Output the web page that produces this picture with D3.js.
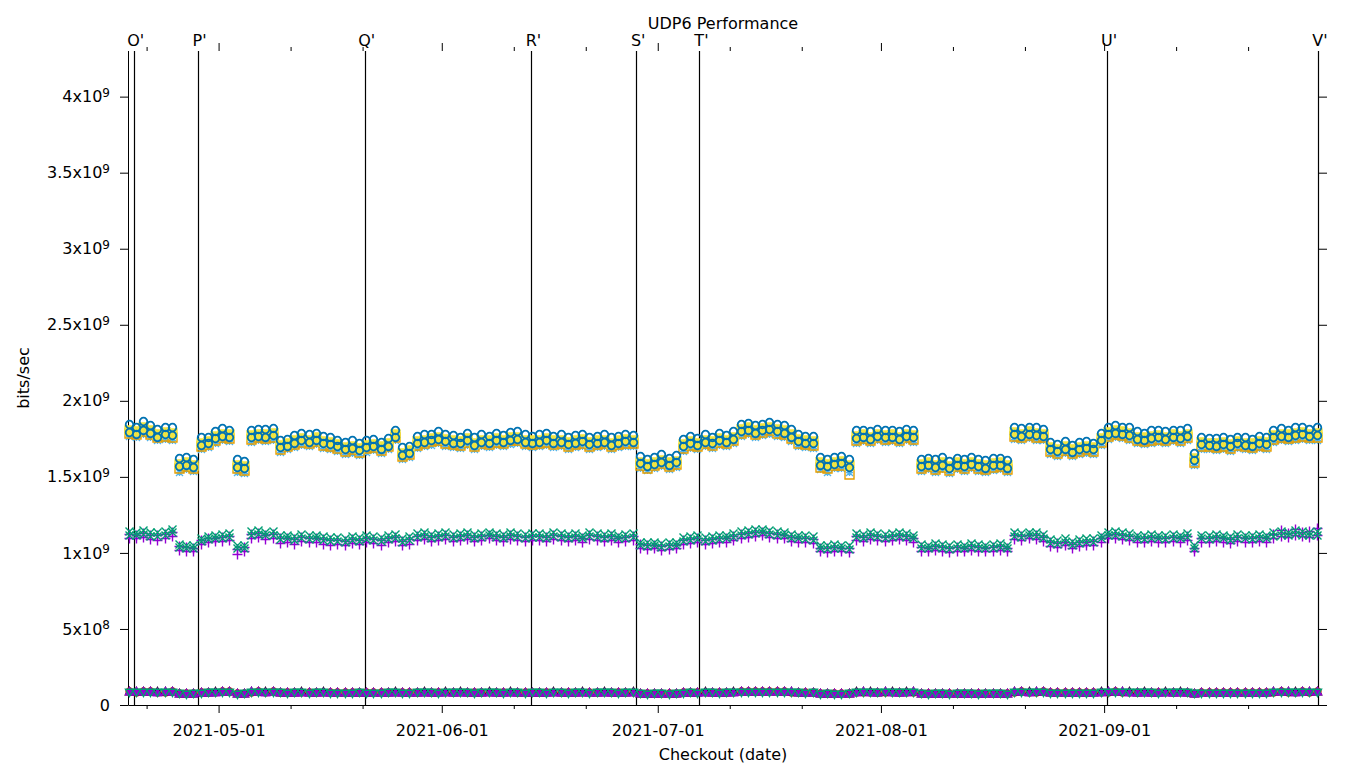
<!DOCTYPE html>
<html>
<head>
<meta charset="utf-8">
<script src="https://cdn.jsdelivr.net/npm/d3@7"></script>
<style>
  body { margin: 0; background: white; }
  svg { display: block; font-family: "DejaVu Sans", sans-serif; }
</style>
</head>
<body>
<div id="chart"></div>
<script>

// checkout dates (one run set per day)
var checkouts = [
  "2021-04-18","2021-04-19","2021-04-20","2021-04-21","2021-04-22","2021-04-23","2021-04-24","2021-04-25","2021-04-26","2021-04-27",
  "2021-04-28","2021-04-29","2021-04-30","2021-05-01","2021-05-02","2021-05-03","2021-05-04","2021-05-05","2021-05-06","2021-05-07",
  "2021-05-08","2021-05-09","2021-05-10","2021-05-11","2021-05-12","2021-05-13","2021-05-14","2021-05-15","2021-05-16","2021-05-17",
  "2021-05-18","2021-05-19","2021-05-20","2021-05-21","2021-05-22","2021-05-23","2021-05-24","2021-05-25","2021-05-26","2021-05-27",
  "2021-05-28","2021-05-29","2021-05-30","2021-05-31","2021-06-01","2021-06-02","2021-06-03","2021-06-04","2021-06-05","2021-06-06",
  "2021-06-07","2021-06-08","2021-06-09","2021-06-10","2021-06-11","2021-06-12","2021-06-13","2021-06-14","2021-06-15","2021-06-16",
  "2021-06-17","2021-06-18","2021-06-19","2021-06-20","2021-06-21","2021-06-22","2021-06-23","2021-06-24","2021-06-25","2021-06-26",
  "2021-06-27","2021-06-28","2021-06-29","2021-06-30","2021-07-01","2021-07-02","2021-07-03","2021-07-04","2021-07-05","2021-07-06",
  "2021-07-07","2021-07-08","2021-07-09","2021-07-10","2021-07-11","2021-07-12","2021-07-13","2021-07-14","2021-07-15","2021-07-16",
  "2021-07-17","2021-07-18","2021-07-19","2021-07-20","2021-07-21","2021-07-22","2021-07-23","2021-07-24","2021-07-25","2021-07-26",
  "2021-07-27","2021-07-28","2021-07-29","2021-07-30","2021-07-31","2021-08-01","2021-08-02","2021-08-03","2021-08-04","2021-08-05",
  "2021-08-06","2021-08-07","2021-08-08","2021-08-09","2021-08-10","2021-08-11","2021-08-12","2021-08-13","2021-08-14","2021-08-15",
  "2021-08-16","2021-08-17","2021-08-18","2021-08-19","2021-08-20","2021-08-21","2021-08-22","2021-08-23","2021-08-24","2021-08-25",
  "2021-08-26","2021-08-27","2021-08-28","2021-08-29","2021-08-30","2021-08-31","2021-09-01","2021-09-02","2021-09-03","2021-09-04",
  "2021-09-05","2021-09-06","2021-09-07","2021-09-08","2021-09-09","2021-09-10","2021-09-11","2021-09-12","2021-09-13","2021-09-14",
  "2021-09-15","2021-09-16","2021-09-17","2021-09-18","2021-09-19","2021-09-20","2021-09-21","2021-09-22","2021-09-23","2021-09-24",
  "2021-09-25","2021-09-26","2021-09-27","2021-09-28","2021-09-29","2021-09-30"
];

// series values, Mbit/s (two runs for some series)
var midPlus = [
  1125,1120,1130,1118,1115,1122,1140, 1045,1040,1030, 1085,1095,1100, 1105,1110, 1025,1040, 1125,1130,1120,1125, 1095,1100,
  1090,1105,1095,1100,1090,1085, 1085,1080,1090,1085,1095,1090,1085,1095, 1105, 1080,1090,
  1110,1115,1105,1110,1115,1105,1110,1115,1105,1110,1120,1110,1105,1115,1110,1105,1110,
  1110,1105,1115,1110,1105,1110,1100,1115,1110,1105,1110,1100,1105,1110,
  1060,1050,1055,1045,1050,1055, 1085,1090,1095,1085,1090,1095,1100,1110, 1125,1130,1135,1140,1130,1125,1120,1105, 1100,1095,1090,
  1035,1030,1040,1035,1030, 1110,1105,1115,1110,1105,1110,1115,1110,1100,
  1040,1035,1045,1040,1030,1040,1035,1045,1040,1035,1040,1045,1035, 1115,1110,1120,1115,1105, 1070,1065,1075,1060,1070,1075,1080,
  1100,1120,1125,1115,1110, 1100,1095,1105,1100,1095,1105,1100,1110, 1035, 1100,1095,1105,1100,1090,1105,1100,1095,1105,1100,
  1125,1150,1130,1160,1135,1145,1165
];
var midPlusB = [
  1100,1095,1105,1090,1085,1098,1110, 1020,1015,1010, 1060,1070,1080, 1080,1085, 995,1010, 1100,1105,1090,1100, 1065,1075,
  1060,1080,1070,1075,1060,1055, 1060,1055,1065,1060,1070,1065,1055,1070, 1080, 1055,1060,
  1085,1090,1080,1085,1090,1080,1085,1090,1080,1085,1095,1085,1080,1090,1085,1080,1085,
  1085,1080,1090,1085,1080,1085,1075,1090,1085,1080,1085,1075,1080,1085,
  1035,1025,1030,1020,1025,1030, 1060,1065,1070,1060,1065,1070,1075,1085, 1100,1105,1110,1115,1105,1100,1095,1080, 1075,1070,1065,
  1010,1005,1015,1010,1005, 1085,1080,1090,1085,1080,1085,1090,1085,1075,
  1015,1010,1020,1015,1005,1015,1010,1020,1015,1010,1015,1020,1010, 1090,1085,1095,1090,1080, 1045,1040,1050,1035,1045,1050,1055,
  1075,1095,1100,1090,1085, 1075,1070,1080,1075,1070,1080,1075,1085, 1010, 1075,1070,1080,1075,1065,1080,1075,1070,1080,1075,
  1100,1110,1105,1120,1110,1105,1115
];
var midCross = [
  1120,1115,1125,1112,1110,1118,1135, 1040,1035,1030, 1080,1090,1095, 1100,1105, 1030,1035, 1120,1125,1115,1120, 1090,1095,
  1085,1100,1090,1095,1085,1080, 1080,1075,1085,1080,1090,1085,1080,1090, 1100, 1075,1085,
  1105,1110,1100,1105,1110,1100,1105,1110,1100,1105,1115,1105,1100,1110,1105,1100,1105,
  1105,1100,1110,1105,1100,1105,1095,1110,1105,1100,1105,1095,1100,1105,
  1055,1045,1050,1040,1045,1050, 1080,1085,1090,1080,1085,1090,1095,1105, 1120,1125,1130,1135,1125,1120,1115,1100, 1095,1090,1085,
  1030,1025,1035,1030,1025, 1105,1100,1110,1105,1100,1105,1110,1105,1095,
  1035,1030,1040,1035,1025,1035,1030,1040,1035,1030,1035,1040,1030, 1110,1105,1115,1110,1100, 1065,1060,1070,1055,1065,1070,1075,
  1095,1115,1120,1110,1105, 1095,1090,1100,1095,1090,1100,1095,1105, 1030, 1095,1090,1100,1095,1085,1100,1095,1090,1100,1095,
  1110,1120,1115,1125,1120,1115,1120
];
var midCrossB = [
  1145,1140,1150,1138,1135,1142,1160, 1060,1055,1050, 1100,1110,1115, 1125,1130, 1050,1055, 1145,1150,1140,1145, 1115,1120,
  1110,1125,1115,1120,1110,1105, 1105,1100,1110,1105,1115,1110,1105,1115, 1125, 1100,1110,
  1130,1135,1125,1130,1135,1125,1130,1135,1125,1130,1140,1130,1125,1135,1130,1125,1130,
  1130,1125,1135,1130,1125,1130,1120,1135,1130,1125,1130,1120,1125,1130,
  1075,1070,1075,1065,1070,1075, 1105,1110,1115,1105,1110,1115,1120,1130, 1145,1150,1155,1160,1150,1145,1140,1125, 1120,1115,1110,
  1055,1050,1060,1055,1050, 1130,1125,1135,1130,1125,1130,1135,1130,1120,
  1060,1055,1065,1060,1050,1060,1055,1065,1060,1055,1060,1065,1055, 1135,1130,1140,1135,1125, 1090,1085,1095,1080,1090,1095,1100,
  1120,1140,1145,1135,1130, 1120,1115,1125,1120,1115,1125,1120,1130, 1055, 1120,1115,1125,1120,1110,1125,1120,1115,1125,1120,
  1135,1145,1140,1150,1145,1140,1145
];
var upStar = [
  1770,1760,1780,1765,1740,1750,1745, 1535,1550,1540, 1685,1695,1725, 1740,1735, 1535,1525, 1730,1740,1735,1745, 1665,1680,
  1695,1710,1700,1715,1690,1685, 1670,1650,1660,1645,1665,1675,1655,1680, 1740, 1620,1630,
  1690,1700,1710,1720,1705,1695,1690,1710,1680,1700,1695,1710,1700,1715,1720,1700,1695,
  1700,1710,1695,1700,1685,1695,1705,1685,1695,1700,1680,1695,1705,1700,
  1560,1545,1555,1570,1550,1565, 1670,1690,1680,1700,1690,1710,1700,1720, 1770,1780,1760,1775,1785,1770,1760,1735, 1705,1695,1690,
  1550,1535,1555,1560,1535, 1725,1735,1720,1740,1730,1735,1720,1740,1730,
  1540,1550,1535,1550,1525,1550,1540,1555,1540,1530,1545,1550,1530, 1750,1740,1755,1745,1740, 1650,1640,1655,1635,1650,1660,1650,
  1710,1750,1760,1755,1745, 1720,1715,1725,1730,1720,1735,1725,1740, 1580, 1685,1680,1675,1685,1670,1690,1680,1675,1690,1685,
  1730,1740,1735,1745,1750,1740,1745
];
var upSquare = [
  1790,1780,1800,1785,1760,1770,1765, 1560,1570,1555, 1700,1715,1745, 1760,1755, 1555,1545, 1750,1760,1755,1765, 1685,1700,
  1715,1730,1720,1735,1710,1705, 1690,1670,1680,1665,1690,1695,1675,1700, 1760, 1635,1650,
  1710,1720,1735,1740,1725,1715,1710,1730,1700,1720,1715,1730,1720,1740,1740,1720,1715,
  1720,1730,1715,1720,1705,1715,1725,1705,1715,1720,1700,1715,1725,1720,
  1575,1560,1575,1590,1570,1585, 1690,1710,1700,1720,1710,1730,1720,1740, 1790,1800,1780,1795,1805,1790,1780,1755, 1725,1715,1710,
  1565,1555,1575,1580,1520, 1745,1755,1740,1760,1750,1755,1740,1760,1750,
  1555,1570,1550,1565,1545,1570,1560,1575,1560,1550,1565,1570,1550, 1770,1760,1775,1765,1760, 1670,1660,1675,1655,1670,1680,1670,
  1730,1770,1780,1775,1765, 1740,1735,1745,1750,1740,1755,1745,1760, 1600, 1705,1700,1695,1705,1690,1710,1700,1695,1710,1705,
  1750,1760,1755,1765,1770,1760,1765
];
var upFilled = [
  1810,1800,1825,1805,1780,1795,1790, 1585,1595,1575, 1725,1735,1770, 1785,1780, 1580,1570, 1775,1785,1780,1790, 1710,1720,
  1740,1755,1745,1760,1735,1730, 1715,1695,1705,1690,1710,1715,1700,1720, 1780, 1660,1675,
  1735,1745,1755,1765,1750,1740,1735,1755,1725,1745,1740,1755,1745,1760,1765,1745,1740,
  1745,1755,1740,1745,1730,1740,1750,1730,1740,1745,1725,1740,1750,1745,
  1600,1585,1600,1610,1595,1605, 1715,1735,1725,1745,1735,1755,1745,1765, 1815,1825,1805,1820,1830,1815,1805,1780, 1750,1740,1735,
  1595,1585,1600,1605,1580, 1770,1780,1765,1785,1775,1780,1765,1785,1775,
  1585,1595,1580,1595,1570,1595,1585,1600,1585,1575,1590,1595,1575, 1795,1785,1800,1790,1785, 1695,1685,1700,1680,1695,1705,1695,
  1755,1795,1805,1800,1790, 1765,1760,1770,1775,1765,1780,1770,1785, 1625, 1730,1725,1720,1730,1715,1735,1725,1720,1735,1730,
  1775,1785,1780,1790,1795,1785,1790
];
var upCircle = [
  1845,1830,1865,1840,1815,1825,1830, 1625,1630,1615, 1760,1765,1800, 1820,1810, 1615,1605, 1810,1815,1815,1820, 1745,1750,
  1775,1790,1780,1790,1770,1765, 1745,1730,1740,1720,1745,1750,1730,1755, 1810, 1695,1705,
  1770,1780,1785,1800,1780,1775,1765,1790,1760,1780,1770,1790,1775,1795,1800,1780,1770,
  1780,1790,1770,1780,1760,1775,1785,1765,1770,1780,1760,1770,1785,1775,
  1640,1620,1630,1650,1625,1645, 1750,1770,1755,1780,1765,1790,1775,1800, 1850,1855,1840,1850,1860,1845,1840,1815, 1785,1770,1770,
  1630,1620,1630,1640,1615, 1805,1810,1800,1815,1810,1810,1800,1815,1805,
  1620,1625,1615,1630,1605,1625,1620,1630,1620,1610,1625,1625,1610, 1830,1820,1830,1825,1815, 1730,1715,1735,1710,1730,1735,1725,
  1790,1830,1840,1830,1825, 1800,1790,1805,1805,1800,1810,1805,1820, 1660, 1765,1755,1755,1760,1750,1765,1760,1750,1770,1760,
  1810,1820,1810,1825,1830,1815,1825
];
var upCircleB = [
  1795,1785,1810,1790,1765,1780,1775, 1570,1580,1565, 1710,1720,1755, 1770,1765, 1565,1555, 1760,1770,1765,1775, 1695,1705,
  1725,1740,1730,1745,1720,1715, 1700,1680,1690,1675,1695,1700,1685,1705, 1765, 1645,1660,
  1720,1730,1740,1750,1735,1725,1720,1740,1710,1730,1725,1740,1730,1745,1750,1730,1725,
  1730,1740,1725,1730,1715,1725,1735,1715,1725,1730,1710,1725,1735,1730,
  1590,1570,1585,1600,1580,1595, 1700,1720,1710,1730,1720,1740,1730,1750, 1800,1810,1790,1805,1815,1800,1790,1765, 1735,1725,1720,
  1580,1570,1585,1590,1565, 1755,1765,1750,1770,1760,1765,1750,1770,1760,
  1570,1580,1565,1580,1555,1580,1570,1585,1570,1560,1575,1580,1560, 1780,1770,1785,1775,1770, 1680,1670,1685,1665,1680,1690,1680,
  1740,1780,1790,1785,1775, 1750,1745,1755,1760,1750,1765,1755,1770, 1610, 1715,1710,1705,1715,1700,1720,1710,1705,1720,1715,
  1760,1770,1765,1775,1780,1770,1775
];
var lowRed = [
  89,88,90,89,87,88,89, 79,78,80, 85,86,87, 89,91, 78,79, 88,89,87,90, 86,85,
  86,87,85,86,87,85, 84,85,84,86,85,84,85,86, 87, 84,85,
  86,87,86,85,87,86,87,86,85,86,87,86,85,87,86,85,86,
  86,85,87,86,85,86,87,85,86,87,86,85,86,87,
  79,78,80,79,78,79, 85,86,85,87,86,85,86,87, 90,91,90,89,91,90,89,88, 86,85,86,
  78,79,77,78,79, 87,88,87,86,88,87,86,87,88,
  79,78,80,79,78,79,80,79,78,79,80,79,78, 88,89,87,88,89, 84,85,83,84,85,84,83,
  87,88,89,88,87, 86,87,86,85,87,86,87,86, 79, 84,85,84,83,85,84,85,84,83,84,
  88,89,88,87,89,88,89
];
var lowBlack = [
  91,90,92,91,89,90,91, 81,80,82, 87,88,89, 91,93, 80,81, 90,91,89,92, 88,87,
  88,89,87,88,89,87, 86,87,86,88,87,86,87,88, 89, 86,87,
  88,89,88,87,89,88,89,88,87,88,89,88,87,89,88,87,88,
  88,87,89,88,87,88,89,87,88,89,88,87,88,89,
  81,80,82,81,80,81, 87,88,87,89,88,87,88,89, 92,93,92,91,93,92,91,90, 88,87,88,
  80,81,79,80,81, 89,90,89,88,90,89,88,89,90,
  81,80,82,81,80,81,82,81,80,81,82,81,80, 90,91,89,90,91, 86,87,85,86,87,86,85,
  89,90,91,90,89, 88,89,88,87,89,88,89,88, 81, 86,87,86,85,87,86,87,86,85,86,
  90,91,90,89,91,90,91
];
var lowTri = [
  90,89,91,90,88,89,90, 80,79,81, 86,87,88, 90,92, 79,80, 89,90,88,91, 87,86,
  87,88,86,87,88,86, 85,86,85,87,86,85,86,87, 88, 85,86,
  87,88,87,86,88,87,88,87,86,87,88,87,86,88,87,86,87,
  87,86,88,87,86,87,88,86,87,88,87,86,87,88,
  80,79,81,80,79,80, 86,87,86,88,87,86,87,88, 91,92,91,90,92,91,90,89, 87,86,87,
  79,80,78,79,80, 88,89,88,87,89,88,87,88,89,
  80,79,81,80,79,80,81,80,79,80,81,80,79, 89,90,88,89,90, 85,86,84,85,86,85,84,
  88,89,90,89,88, 87,88,87,86,88,87,88,87, 80, 85,86,85,84,86,85,86,85,84,85,
  89,90,89,88,90,89,90
];
var lowTriDown = [
  86,85,87,86,84,85,86, 76,75,77, 82,83,84, 86,88, 75,76, 85,86,84,87, 83,82,
  83,84,82,83,84,82, 81,82,81,83,82,81,82,83, 84, 81,82,
  83,84,83,82,84,83,84,83,82,83,84,83,82,84,83,82,83,
  83,82,84,83,82,83,84,82,83,84,83,82,83,84,
  76,75,77,76,75,76, 82,83,82,84,83,82,83,84, 87,88,87,86,88,87,86,85, 83,82,83,
  75,76,74,75,76, 84,85,84,83,85,84,83,84,85,
  76,75,77,76,75,76,77,76,75,76,77,76,75, 85,86,84,85,86, 81,82,80,81,82,81,80,
  84,85,86,85,84, 83,84,83,82,84,83,84,83, 76, 81,82,81,80,82,81,82,81,80,81,
  85,86,85,84,86,85,86
];

// release markers along the top
var markerNames = ["O'", "P'", "Q'", "R'", "S'", "T'", "U'", "V'"];
var markerDates = ["2021-04-19 05", "2021-04-28 02", "2021-05-21 07", "2021-06-13 11",
                   "2021-06-28 00", "2021-07-06 19", "2021-09-01 10", "2021-09-30 17"];

var yTicks = [0, 5e8, 1e9, 1.5e9, 2e9, 2.5e9, 3e9, 3.5e9, 4e9];

var PerfChart = function(container){

    this.container = container;
    this.cs = {
        purple: "#9400d3", green: "#009e73", lightblue: "#56b4e9", orange: "#e69f00",
        yellow: "#f0e442", blue: "#0072b2", red: "#e51e10", black: "#000000"
    };
    this.margin = {left: 128, right: 42, top: 51, bottom: 63};
    this.full_width = 1360;
    this.full_height = 768;

    this._init();
};

PerfChart.prototype._init = function(){

    var parse = d3.timeParse("%Y-%m-%d %H");
    this.dates = checkouts.map(function(s){ return parse(s + " 12"); });
    this.marks = markerDates.map(function(s){ return parse(s); });

    this._build_graph();
    this._draw_axes();
    this._draw_markers();
    this._draw_series();
    this._draw_labels();
};

PerfChart.prototype._build_graph = function(){

    var m = this.margin;
    this.width = this.full_width - m.left - m.right;
    this.height = this.full_height - m.top - m.bottom;

    this._svg = d3.select(this.container)
        .append("svg")
        .attr("width", this.full_width)
        .attr("height", this.full_height);

    this._svg.append("rect")
        .attr("width", this.full_width)
        .attr("height", this.full_height)
        .attr("fill", "white");

    this.x = d3.scaleTime()
        .domain([new Date(2021, 3, 18, 10), new Date(2021, 8, 30, 17)])
        .range([m.left, m.left + this.width]);

    this.y = d3.scaleLinear()
        .domain([0, 4.3e9])
        .range([m.top + this.height, m.top]);
};

PerfChart.prototype._draw_axes = function(){

    var x = this.x, y = this.y;
    var bottom = this.margin.top + this.height;
    var top = this.margin.top;
    var left = this.margin.left;
    var right = this.margin.left + this.width;

    var months = d3.timeMonth.range(x.domain()[0], x.domain()[1]);
    var minors = d3.timeDay.range(x.domain()[0], x.domain()[1]).filter(function(d){
        return d.getDate() == 11 || d.getDate() == 21;
    });

    var fontSize = "16px";

    // major x ticks with dates
    var xAxis = this._svg.append("g")
        .attr("transform", "translate(0," + bottom + ")")
        .call(d3.axisBottom(x).tickValues(months).tickFormat(d3.timeFormat("%Y-%m-%d"))
            .tickSizeInner(8).tickSizeOuter(0).tickPadding(12));
    xAxis.select(".domain").remove();
    xAxis.selectAll("text").attr("font-size", fontSize).attr("font-family", "DejaVu Sans").attr("fill", "black");

    this._svg.append("g")
        .attr("transform", "translate(0," + bottom + ")")
        .call(d3.axisBottom(x).tickValues(minors).tickFormat("").tickSizeInner(4).tickSizeOuter(0))
        .select(".domain").remove();

    // mirrored ticks on top
    this._svg.append("g")
        .attr("transform", "translate(0," + top + ")")
        .call(d3.axisTop(x).tickValues(months).tickFormat("").tickSizeInner(8).tickSizeOuter(0))
        .select(".domain").remove();
    this._svg.append("g")
        .attr("transform", "translate(0," + top + ")")
        .call(d3.axisTop(x).tickValues(minors).tickFormat("").tickSizeInner(4).tickSizeOuter(0))
        .select(".domain").remove();

    // y ticks, left with labels and right mirrored
    var yAxis = this._svg.append("g")
        .attr("transform", "translate(" + left + ",0)")
        .call(d3.axisLeft(y).tickValues(yTicks).tickSizeInner(8).tickSizeOuter(0).tickPadding(10));
    yAxis.select(".domain").remove();
    yAxis.selectAll("text")
        .attr("font-size", fontSize).attr("font-family", "DejaVu Sans").attr("fill", "black")
        .each(function(d){
            var t = d3.select(this).text(null);
            if(d == 0){ t.text("0"); return; }
            var e = Math.floor(Math.log10(d));
            var mant = d / Math.pow(10, e);
            t.append("tspan").text(mant + "x10");
            t.append("tspan").attr("dy", "-0.45em").attr("font-size", "12px").text(e);
        });

    this._svg.append("g")
        .attr("transform", "translate(" + right + ",0)")
        .call(d3.axisRight(y).tickValues(yTicks).tickFormat("").tickSizeInner(9).tickSizeOuter(0))
        .select(".domain").remove();

    // border: left and bottom
    this._svg.append("path")
        .attr("d", "M" + (left + 0.5) + "," + top + "V" + (bottom + 0.5) + "H" + right)
        .attr("fill", "none")
        .attr("stroke", "black");
};

PerfChart.prototype._draw_markers = function(){

    var self = this;
    var top = this.margin.top;
    var bottom = this.margin.top + this.height;

    var g = this._svg.append("g").attr("class", "releases");

    var data = this.marks.map(function(d, i){ return {date: d, name: markerNames[i]}; });

    g.selectAll("line")
        .data(data)
        .enter().append("line")
        .attr("x1", function(d){ return Math.round(self.x(d.date)) + 0.5; })
        .attr("x2", function(d){ return Math.round(self.x(d.date)) + 0.5; })
        .attr("y1", top)
        .attr("y2", bottom)
        .attr("stroke", "black")
        .attr("stroke-width", 1.2);

    g.selectAll("text")
        .data(data)
        .enter().append("text")
        .attr("x", function(d){ return self.x(d.date) + 2; })
        .attr("y", top - 5)
        .attr("text-anchor", "middle")
        .attr("font-size", "16px")
        .text(function(d){ return d.name; });
};

PerfChart.prototype._symbol = function(type, r){

    var h = r;
    switch(type){
        case "plus":   return "M" + (-h) + ",0H" + h + "M0," + (-h) + "V" + h;
        case "cross":  return "M" + (-h) + "," + (-h) + "L" + h + "," + h + "M" + (-h) + "," + h + "L" + h + "," + (-h);
        case "star":   return "M" + (-h) + ",0H" + h + "M0," + (-h) + "V" + h +
                              "M" + (-h) + "," + (-h) + "L" + h + "," + h + "M" + (-h) + "," + h + "L" + h + "," + (-h);
        case "square": return "M" + (-h) + "," + (-h) + "H" + h + "V" + h + "H" + (-h) + "Z";
        case "circle": return d3.symbol(d3.symbolCircle, Math.PI * h * h)();
        case "triUp":  return "M0," + (-h) + "L" + h + "," + (h * 0.8) + "L" + (-h) + "," + (h * 0.8) + "Z";
        case "triDown":return "M0," + h + "L" + h + "," + (-h * 0.8) + "L" + (-h) + "," + (-h * 0.8) + "Z";
    }
};

PerfChart.prototype._draw_series = function(){

    var self = this;
    var cs = this.cs;

    // drawn in plot order, later series on top
    var series = [
        {values: midPlus,    color: cs.purple,    type: "plus",    r: 5,   fill: false, sw: 1.4},
        {values: midPlusB,   color: cs.purple,    type: "plus",    r: 5,   fill: false, sw: 1.4},
        {values: midCross,   color: cs.green,     type: "cross",   r: 4,   fill: false, sw: 1.4},
        {values: midCrossB,  color: cs.green,     type: "cross",   r: 4,   fill: false, sw: 1.4},
        {values: upStar,     color: cs.lightblue, type: "star",    r: 3.5, fill: false, sw: 1.4},
        {values: upSquare,   color: cs.orange,    type: "square",  r: 4.5, fill: false, sw: 1.4},
        {values: upFilled,   color: cs.yellow,    type: "square",  r: 4.5, fill: true,  sw: 1.4},
        {values: upCircleB,  color: cs.blue,      type: "circle",  r: 3.8, fill: false, sw: 1.8},
        {values: upCircle,   color: cs.blue,      type: "circle",  r: 3.8, fill: false, sw: 1.8},
        {values: lowRed,     color: cs.red,       type: "circle",  r: 3.5, fill: true,  sw: 1.4},
        {values: lowBlack,   color: cs.black,     type: "triUp",   r: 4,   fill: false, sw: 1.4},
        {values: lowTri,     color: cs.purple,    type: "triUp",   r: 4,   fill: true,  sw: 1.4},
        {values: lowTriDown, color: cs.green,     type: "triDown", r: 4,   fill: false, sw: 1.4}
    ];

    series.forEach(function(s){
        var pts = s.values.map(function(v, i){ return {date: self.dates[i], value: v * 1e6}; })
            .filter(function(d){ return d.date; });
        var path = self._symbol(s.type, s.r);

        self._svg.append("g")
            .selectAll("path")
            .data(pts)
            .enter().append("path")
            .attr("transform", function(d){
                return "translate(" + (Math.round(self.x(d.date)) + 0.5) + "," + (Math.round(self.y(d.value)) + 0.5) + ")";
            })
            .attr("d", path)
            .attr("fill", s.fill ? s.color : "none")
            .attr("stroke", s.color)
            .attr("stroke-width", s.sw);
    });
};

PerfChart.prototype._draw_labels = function(){

    var m = this.margin;
    var cx = m.left + this.width / 2;

    this._svg.append("text")
        .attr("x", cx)
        .attr("y", 29)
        .attr("text-anchor", "middle")
        .attr("font-size", "16px")
        .text("UDP6 Performance");

    this._svg.append("text")
        .attr("x", cx)
        .attr("y", 760)
        .attr("text-anchor", "middle")
        .attr("font-size", "16px")
        .text("Checkout (date)");

    this._svg.append("text")
        .attr("transform", "translate(29," + (m.top + this.height / 2) + ") rotate(-90)")
        .attr("text-anchor", "middle")
        .attr("font-size", "16px")
        .text("bits/sec");
};

new PerfChart("#chart");

</script>
</body>
</html>
